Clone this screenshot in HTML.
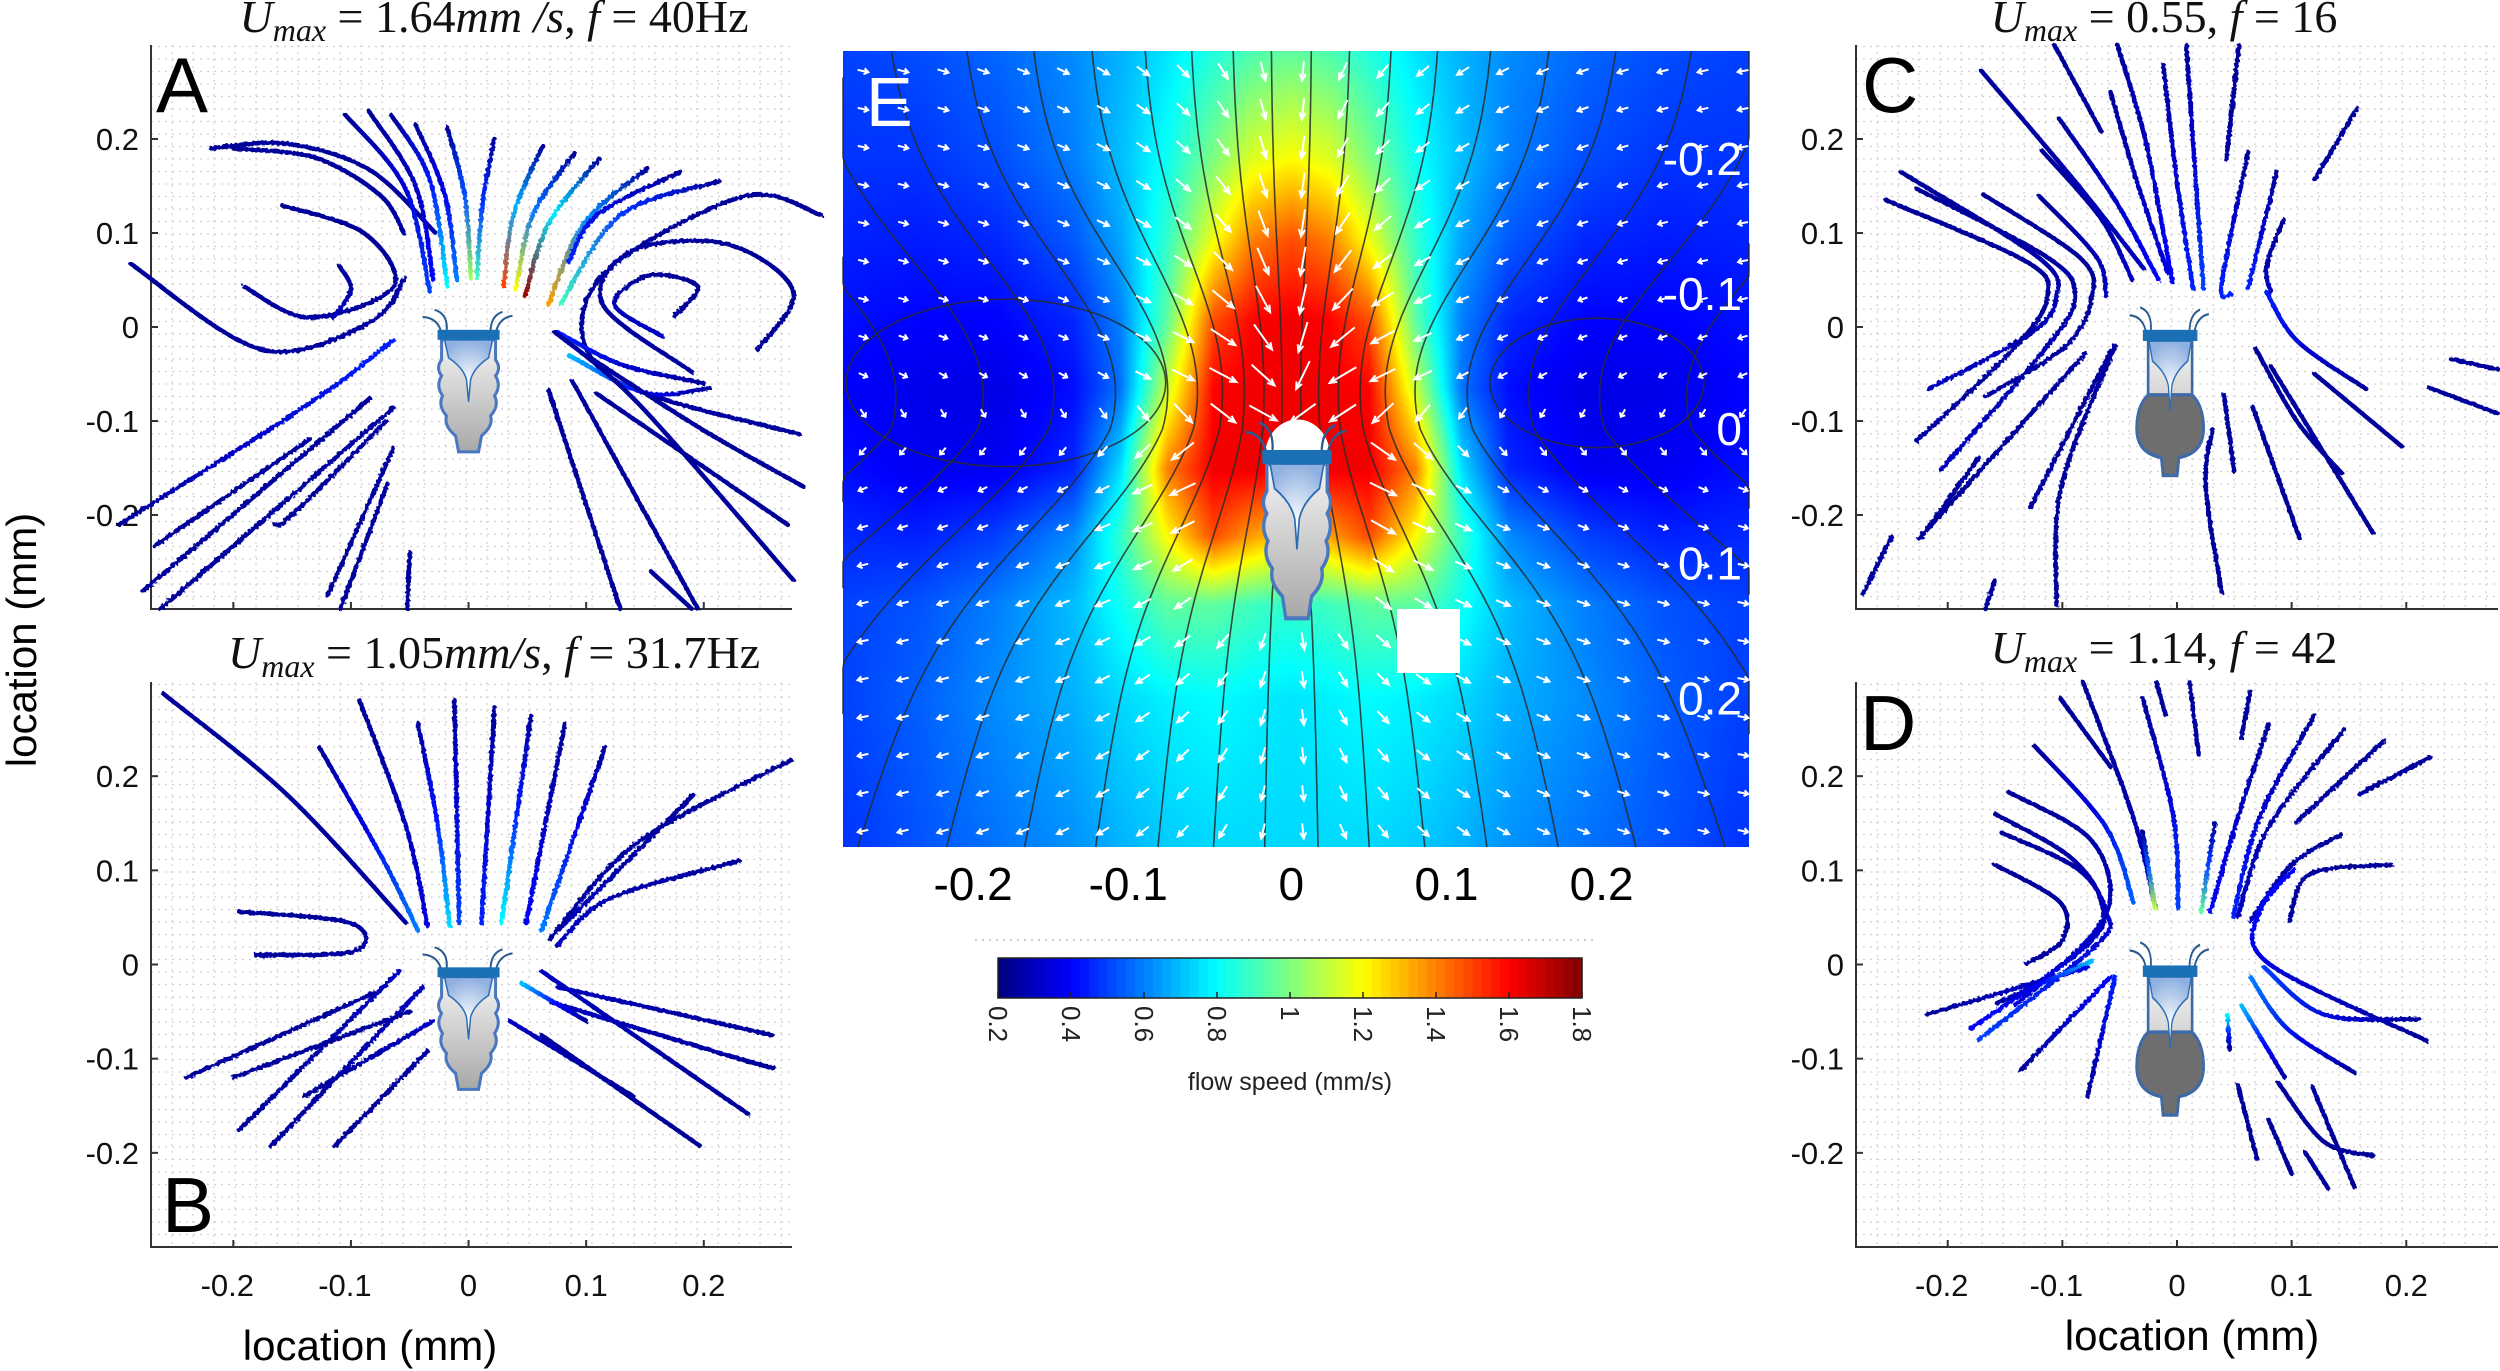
<!DOCTYPE html>
<html><head><meta charset="utf-8">
<style>
html,body{margin:0;padding:0;background:#fff;}
#wrap{position:relative;width:2500px;height:1371px;overflow:hidden;}
#heat{position:absolute;left:843px;top:51px;}
svg{position:absolute;left:0;top:0;}
text{font-family:"Liberation Sans",sans-serif;}
.ttl{font-family:"Liberation Serif",serif;font-size:46px;}
</style></head>
<body>
<div id="wrap">
<canvas id="heat" width="906" height="796"></canvas>
<svg id="s" width="2500" height="1371" xmlns="http://www.w3.org/2000/svg">
<defs id="defs">
<linearGradient id="gBody" x1="0" y1="0" x2="0" y2="1"><stop offset="0" stop-color="#f4f4f4"/><stop offset="1" stop-color="#a8a8a8"/></linearGradient>
<radialGradient id="gCup" cx="0.5" cy="0.7" r="0.7"><stop offset="0" stop-color="#ffffff"/><stop offset="1" stop-color="#8fb0e0"/></radialGradient>
<filter id="wig" x="-5%" y="-5%" width="110%" height="110%"><feTurbulence type="fractalNoise" baseFrequency="0.35" numOctaves="1" seed="3"/><feDisplacementMap in="SourceGraphic" scale="4"/></filter>
</defs>
<g id="layer"></g>
</svg>
</div>
<script>
// ---------- Panel E heatmap data (flow speed, mm/s) ----------
const heatX = [-0.29,-0.24,-0.19,-0.14,-0.11,-0.08,-0.05,-0.025,0,0.025,0.05,0.08,0.11,0.14,0.19,0.24,0.29];
const heatY = [-0.28,-0.2,-0.14,-0.08,-0.03,0.03,0.08,0.13,0.2,0.31];
const heatV = [
 [0.50,0.52,0.56,0.62,0.68,0.76,0.85,0.92,0.95,0.92,0.85,0.76,0.68,0.62,0.56,0.52,0.50],
 [0.48,0.48,0.52,0.60,0.70,0.82,1.00,1.15,1.20,1.15,1.00,0.82,0.70,0.60,0.52,0.48,0.48],
 [0.45,0.44,0.46,0.54,0.66,0.88,1.18,1.40,1.48,1.40,1.18,0.88,0.66,0.54,0.46,0.44,0.45],
 [0.42,0.40,0.40,0.46,0.60,0.95,1.48,1.60,1.62,1.60,1.48,0.95,0.60,0.46,0.40,0.40,0.42],
 [0.40,0.37,0.36,0.42,0.58,1.12,1.60,1.62,1.62,1.62,1.60,1.12,0.58,0.42,0.36,0.37,0.40],
 [0.42,0.38,0.38,0.46,0.75,1.40,1.62,1.62,1.62,1.62,1.62,1.40,0.75,0.46,0.38,0.38,0.42],
 [0.46,0.45,0.50,0.62,0.88,1.20,1.48,1.35,1.25,1.35,1.48,1.20,0.88,0.62,0.50,0.45,0.46],
 [0.50,0.53,0.60,0.70,0.82,0.95,0.95,0.90,0.88,0.90,0.95,0.95,0.82,0.70,0.60,0.53,0.50],
 [0.50,0.55,0.62,0.68,0.74,0.78,0.80,0.78,0.76,0.78,0.80,0.78,0.74,0.68,0.62,0.55,0.50],
 [0.48,0.53,0.58,0.63,0.68,0.72,0.74,0.74,0.74,0.74,0.74,0.72,0.68,0.63,0.58,0.53,0.48]
];
const cbTicks = [0.2,0.4,0.6,0.8,1,1.2,1.4,1.6,1.8];
const eXTicks = [-0.2,-0.1,0,0.1,0.2];
const eYTicks = [-0.2,-0.1,0,0.1,0.2];
const axTicks = [-0.2,-0.1,0,0.1,0.2];
const lobeCentersX = [-0.184,0.197];
const lobeCenterY = [-0.034,-0.034];
const lobeRx = [0.103,0.069];
const lobeRy = [0.062,0.048];
const streamSeeds = [0.012,0.035,0.06,0.088,0.12,0.155,0.195,0.24,0.29,0.35,0.42,0.5];

// ---------- Trajectory data (x mm, y mm; c = speed mm/s) ----------
const trajA = [
 {c:0.25,p:[[-0.219,0.19],[-0.155,0.195],[-0.084,0.167],[-0.028,0.1]]},
 {c:0.25,p:[[-0.2,0.19],[-0.13,0.18],[-0.075,0.14],[-0.055,0.1]]},
 {c:0.25,p:[[-0.287,0.067],[-0.176,-0.024],[-0.084,0.005],[-0.054,0.052]]},
 {c:0.25,p:[[-0.158,0.129],[-0.089,0.1],[-0.064,0.043],[-0.135,0.01],[-0.191,0.043]]},
 {c:0.3,p:[[-0.11,0.065],[-0.1,0.04],[-0.115,0.01]]},
 {c:0.5,p:[[-0.105,0.226],[-0.054,0.148],[-0.033,0.038]]},
 {c:0.4,p:[[-0.085,0.23],[-0.045,0.15],[-0.03,0.05]]},
 {c:0.8,p:[[-0.066,0.226],[-0.033,0.157],[-0.018,0.043]]},
 {c:0.6,p:[[-0.045,0.215],[-0.02,0.14],[-0.01,0.05]]},
 {c:1.05,p:[[-0.018,0.212],[-0.003,0.138],[0.002,0.052]]},
 {c:0.9,p:[[0.022,0.2],[0.012,0.133],[0.007,0.052]]},
 {c:1.5,p:[[0.063,0.193],[0.038,0.119],[0.03,0.043]]},
 {c:1.2,p:[[0.09,0.185],[0.055,0.12],[0.04,0.04]]},
 {c:1.75,p:[[0.111,0.179],[0.068,0.11],[0.048,0.033]]},
 {c:1.35,p:[[0.152,0.169],[0.098,0.11],[0.068,0.024]]},
 {c:0.9,p:[[0.213,0.155],[0.129,0.119],[0.078,0.024]]},
 {c:0.45,p:[[0.18,0.165],[0.11,0.12],[0.085,0.07]]},
 {c:0.25,p:[[0.3,0.119],[0.231,0.138],[0.109,0.048],[0.119,-0.052],[0.281,-0.114]]},
 {c:0.25,p:[[0.246,-0.024],[0.276,0.038],[0.22,0.088],[0.139,0.081],[0.114,0.024],[0.19,-0.048]]},
 {c:0.3,p:[[0.175,0.012],[0.195,0.043],[0.154,0.055],[0.124,0.024],[0.165,-0.01]]},
 {c:0.45,p:[[0.075,-0.005],[0.13,-0.04],[0.2,-0.06]]},
 {c:0.7,p:[[0.085,-0.03],[0.15,-0.07],[0.205,-0.065]]},
 {c:0.25,p:[[0.073,-0.005],[0.144,-0.081],[0.276,-0.269]]},
 {c:0.25,p:[[0.068,-0.067],[0.129,-0.3]]},
 {c:0.25,p:[[0.088,-0.057],[0.195,-0.3]]},
 {c:0.25,p:[[0.109,-0.071],[0.271,-0.21]]},
 {c:0.25,p:[[0.1,-0.03],[0.2,-0.11],[0.285,-0.17]]},
 {c:0.25,p:[[0.155,-0.26],[0.19,-0.3]]},
 {c:0.45,p:[[-0.064,-0.014],[-0.135,-0.081],[-0.297,-0.21]]},
 {c:0.25,p:[[-0.084,-0.076],[-0.277,-0.281]]},
 {c:0.25,p:[[-0.064,-0.086],[-0.262,-0.3]]},
 {c:0.25,p:[[-0.135,-0.119],[-0.267,-0.233]]},
 {c:0.25,p:[[-0.064,-0.129],[-0.12,-0.286]]},
 {c:0.25,p:[[-0.069,-0.167],[-0.109,-0.3]]},
 {c:0.25,p:[[-0.05,-0.24],[-0.052,-0.3]]},
 {c:0.25,p:[[-0.07,-0.1],[-0.15,-0.2],[-0.165,-0.21]]}
];
const trajB = [
 {c:0.25,p:[[-0.26,0.288],[-0.154,0.18],[-0.053,0.044]]},
 {c:0.25,p:[[-0.195,0.056],[-0.1,0.044],[-0.097,0.014],[-0.181,0.01]]},
 {c:0.6,p:[[-0.127,0.231],[-0.073,0.112],[-0.043,0.036]]},
 {c:0.35,p:[[-0.093,0.281],[-0.053,0.146],[-0.035,0.041]]},
 {c:0.75,p:[[-0.043,0.256],[-0.026,0.146],[-0.016,0.041]]},
 {c:0.5,p:[[-0.012,0.281],[-0.008,0.044]]},
 {c:0.45,p:[[0.022,0.273],[0.011,0.044]]},
 {c:0.8,p:[[0.053,0.264],[0.028,0.044]]},
 {c:0.4,p:[[0.082,0.256],[0.049,0.044]]},
 {c:0.6,p:[[0.116,0.231],[0.062,0.036]]},
 {c:0.3,p:[[0.191,0.18],[0.076,0.036]]},
 {c:0.25,p:[[0.274,0.217],[0.143,0.129],[0.069,0.027]]},
 {c:0.3,p:[[0.23,0.11],[0.12,0.07],[0.075,0.02]]},
 {c:0.3,p:[[-0.059,-0.007],[-0.195,-0.176]]},
 {c:0.3,p:[[-0.039,-0.024],[-0.168,-0.193]]},
 {c:0.25,p:[[-0.05,-0.05],[-0.2,-0.12]]},
 {c:0.25,p:[[-0.035,-0.092],[-0.114,-0.193]]},
 {c:0.3,p:[[-0.03,-0.06],[-0.14,-0.14]]},
 {c:0.25,p:[[-0.08,-0.03],[-0.24,-0.12]]},
 {c:0.3,p:[[0.062,-0.007],[0.238,-0.159]]},
 {c:0.3,p:[[0.07,-0.04],[0.23,-0.1],[0.26,-0.11]]},
 {c:0.25,p:[[0.062,-0.075],[0.197,-0.193]]},
 {c:0.3,p:[[0.035,-0.06],[0.14,-0.14]]},
 {c:0.3,p:[[0.076,-0.024],[0.258,-0.075]]},
 {c:0.7,p:[[0.045,-0.02],[0.1,-0.06]]}
];
const trajC = [
 {c:0.3,p:[[-0.241,0.165],[-0.121,0.074],[-0.105,0.033],[-0.128,-0.007],[-0.217,-0.066]]},
 {c:0.25,p:[[-0.254,0.135],[-0.132,0.07],[-0.113,0.033],[-0.14,-0.02],[-0.227,-0.121]]},
 {c:0.3,p:[[-0.227,0.147],[-0.113,0.074],[-0.089,0.033],[-0.113,-0.02],[-0.206,-0.152]]},
 {c:0.25,p:[[-0.169,0.141],[-0.085,0.074],[-0.074,0.033],[-0.097,-0.02],[-0.167,-0.074]]},
 {c:0.3,p:[[-0.12,0.139],[-0.07,0.074],[-0.062,0.033]]},
 {c:0.3,p:[[-0.118,0.188],[-0.066,0.115],[-0.039,0.05]]},
 {c:0.3,p:[[-0.171,0.273],[-0.089,0.155],[-0.029,0.062]]},
 {c:0.25,p:[[-0.107,0.3],[-0.066,0.208]]},
 {c:0.4,p:[[-0.103,0.222],[-0.054,0.135],[-0.016,0.05]]},
 {c:0.4,p:[[-0.052,0.3],[-0.027,0.196],[-0.004,0.048]]},
 {c:0.35,p:[[-0.058,0.25],[-0.035,0.155],[-0.008,0.058]]},
 {c:0.45,p:[[-0.012,0.279],[0,0.155],[0.014,0.041]]},
 {c:0.5,p:[[0.008,0.3],[0.023,0.041]]},
 {c:0.25,p:[[0.054,0.3],[0.043,0.178]]},
 {c:0.45,p:[[0.062,0.186],[0.039,0.046],[0.047,0.035]]},
 {c:0.45,p:[[0.087,0.165],[0.062,0.041]]},
 {c:0.3,p:[[0.093,0.114],[0.078,0.065],[0.082,0.037]]},
 {c:0.25,p:[[0.157,0.233],[0.12,0.157]]},
 {c:0.45,p:[[0.078,0.037],[0.105,-0.015],[0.165,-0.066]]},
 {c:0.25,p:[[0.12,-0.05],[0.196,-0.127]]},
 {c:0.25,p:[[0.068,-0.022],[0.105,-0.101],[0.144,-0.156]]},
 {c:0.25,p:[[0.082,-0.042],[0.171,-0.219]]},
 {c:0.25,p:[[0.066,-0.085],[0.107,-0.225]]},
 {c:0.25,p:[[0.041,-0.072],[0.05,-0.154]]},
 {c:0.25,p:[[0.031,-0.109],[0.025,-0.17],[0.039,-0.282]]},
 {c:0.25,p:[[0.239,-0.034],[0.28,-0.045]]},
 {c:0.25,p:[[0.219,-0.064],[0.28,-0.092]]},
 {c:0.25,p:[[-0.058,-0.026],[-0.128,-0.192]]},
 {c:0.25,p:[[-0.054,-0.02],[-0.101,-0.17],[-0.105,-0.296]]},
 {c:0.25,p:[[-0.08,-0.028],[-0.225,-0.225]]},
 {c:0.25,p:[[-0.173,-0.139],[-0.224,-0.225]]},
 {c:0.25,p:[[-0.249,-0.223],[-0.274,-0.284]]},
 {c:0.25,p:[[-0.159,-0.27],[-0.167,-0.3]]}
];
const trajD = [
 {c:0.4,p:[[-0.159,0.16],[-0.094,0.115],[-0.066,0.066],[-0.078,0.021],[-0.18,-0.068]]},
 {c:0.5,p:[[-0.153,0.14],[-0.086,0.101],[-0.062,0.056],[-0.07,0.021],[-0.173,-0.08]]},
 {c:0.35,p:[[-0.147,0.183],[-0.078,0.136],[-0.058,0.076],[-0.078,0.026],[-0.141,-0.043]]},
 {c:0.25,p:[[-0.159,0.106],[-0.102,0.066],[-0.1,0.026],[-0.131,0.001]]},
 {c:0.35,p:[[-0.218,-0.053],[-0.078,-0.003]]},
 {c:0.7,p:[[-0.157,-0.041],[-0.074,0.004]]},
 {c:0.4,p:[[-0.137,-0.113],[-0.07,-0.028],[-0.058,-0.013]]},
 {c:0.45,p:[[-0.078,-0.14],[-0.054,-0.013]]},
 {c:0.25,p:[[-0.102,0.283],[-0.058,0.21]]},
 {c:0.3,p:[[-0.082,0.3],[-0.038,0.156],[-0.019,0.061]]},
 {c:0.55,p:[[-0.125,0.233],[-0.062,0.146],[-0.038,0.066]]},
 {c:0.5,p:[[-0.03,0.283],[-0.003,0.156],[0.001,0.059]]},
 {c:0.25,p:[[-0.018,0.3],[-0.01,0.265]]},
 {c:0.25,p:[[0.011,0.3],[0.019,0.223]]},
 {c:1.1,p:[[-0.03,0.141],[-0.019,0.059]]},
 {c:0.95,p:[[0.033,0.15],[0.021,0.056]]},
 {c:0.25,p:[[0.064,0.29],[0.056,0.24]]},
 {c:0.4,p:[[0.08,0.255],[0.053,0.156],[0.029,0.056]]},
 {c:0.45,p:[[0.12,0.265],[0.072,0.156],[0.049,0.051]]},
 {c:0.3,p:[[0.146,0.25],[0.08,0.146],[0.053,0.051]]},
 {c:0.25,p:[[0.181,0.238],[0.104,0.151]]},
 {c:0.25,p:[[0.221,0.22],[0.159,0.181]]},
 {c:0.3,p:[[0.143,0.138],[0.1,0.106],[0.064,0.046]]},
 {c:0.25,p:[[0.187,0.106],[0.116,0.096],[0.098,0.046]]},
 {c:0.4,p:[[0.102,0.101],[0.072,0.056],[0.08,0.001],[0.218,-0.081]]},
 {c:0.5,p:[[0.076,-0.003],[0.128,-0.053],[0.211,-0.058]]},
 {c:0.6,p:[[0.064,-0.013],[0.096,-0.068],[0.155,-0.115]]},
 {c:0.7,p:[[0.056,-0.043],[0.094,-0.12]]},
 {c:0.8,p:[[0.044,-0.053],[0.046,-0.09]]},
 {c:0.25,p:[[0.053,-0.128],[0.07,-0.207]]},
 {c:0.25,p:[[0.088,-0.125],[0.128,-0.188],[0.171,-0.203]]},
 {c:0.25,p:[[0.08,-0.165],[0.1,-0.222]]},
 {c:0.25,p:[[0.112,-0.2],[0.132,-0.238]]},
 {c:0.25,p:[[0.118,-0.13],[0.155,-0.237]]}
];

const NS = "http://www.w3.org/2000/svg";
const layer = document.getElementById('layer');
const defs = document.getElementById('defs');
function el(tag, attrs, parent){
  const e = document.createElementNS(NS, tag);
  for (const k in attrs) e.setAttribute(k, attrs[k]);
  (parent||layer).appendChild(e);
  return e;
}
function clamp(v){return Math.max(0,Math.min(1,v));}
function jet(t){
  t = clamp(t);
  const r = clamp(1.5-Math.abs(4*t-3)), g = clamp(1.5-Math.abs(4*t-2)), b = clamp(1.5-Math.abs(4*t-1));
  return [Math.round(r*255),Math.round(g*255),Math.round(b*255)];
}
function jetCss(v){const c = jet((v-0.2)/1.6); return `rgb(${c[0]},${c[1]},${c[2]})`;}

const E = {x0:843,x1:1749,xmin:-0.289,xmax:0.295,y0:51,y1:847,ymin:-0.28,ymax:0.31};
function ex(x){return E.x0+(x-E.xmin)/(E.xmax-E.xmin)*(E.x1-E.x0);}
function ey(y){return E.y0+(y-E.ymin)/(E.ymax-E.ymin)*(E.y1-E.y0);}
function findIdx(arr,v){let i=0;while(i<arr.length-2 && v>arr[i+1]) i++;return i;}
function interp(x,y){
  const i=findIdx(heatX,x), j=findIdx(heatY,y);
  const tx=clamp((x-heatX[i])/(heatX[i+1]-heatX[i]));
  const ty=clamp((y-heatY[j])/(heatY[j+1]-heatY[j]));
  const a=heatV[j][i],b=heatV[j][i+1],c=heatV[j+1][i],d=heatV[j+1][i+1];
  return (a*(1-tx)+b*tx)*(1-ty)+(c*(1-tx)+d*tx)*ty;
}
(function(){
  const cv=document.getElementById('heat'), ctx=cv.getContext('2d');
  const W=cv.width,H=cv.height, img=ctx.createImageData(W,H);
  for(let py=0;py<H;py++){
    const y=E.ymin+(py+0.5)/H*(E.ymax-E.ymin);
    for(let px=0;px<W;px++){
      const x=E.xmin+(px+0.5)/W*(E.xmax-E.xmin);
      const c=jet((interp(x,y)-0.2)/1.6);
      const k=(py*W+px)*4;
      img.data[k]=c[0];img.data[k+1]=c[1];img.data[k+2]=c[2];img.data[k+3]=255;
    }
  }
  ctx.putImageData(img,0,0);
})();

function vel(x,y){
  const r=Math.sqrt(x*x+y*y)+1e-6;
  return [5*x*y/(r*r*r), 1/r + y*y/(r*r*r) - 2.5];
}
// hourglass streamline shape: pinch near organism, spread below
function pinch(y,s){
  const g=Math.exp(-Math.pow((y+0.03)/0.13,2));
  const spread = y>0 ? 1+1.4*y : 1+0.3*(-y);
  return (1-0.5*g*Math.min(1,0.25/(s+0.1)))*spread;
}
const gStream = el('g',{});


streamSeeds.forEach(s=>{[-1,1].forEach(sg=>{
  const pts=[];
  for(let k=0;k<=120;k++){
    const y=E.ymin+k/120*(E.ymax-E.ymin);
    const x=sg*s*pinch(y,s);
    if(x<E.xmin-0.02||x>E.xmax+0.02) continue;
    pts.push([Math.max(E.xmin,Math.min(E.xmax,x)),y]);
  }
  if(pts.length<3) return;
  const d=pts.map((p,i)=>(i?'L':'M')+ex(p[0]).toFixed(1)+','+ey(p[1]).toFixed(1)).join('');
  const p=el('path',{d:d,fill:'none',stroke:'#2a2a2a','stroke-width':1.6,opacity:0.85},gStream);
  
  
});});
lobeCentersX.forEach((cx,i)=>{
  const e=el('ellipse',{cx:ex(cx),cy:ey(lobeCenterY[i]),rx:lobeRx[i]*1551,ry:lobeRy[i]*1349,fill:'none',stroke:'#2a2a2a','stroke-width':1.6,opacity:0.85},gStream);
  
  
});
const gArr = el('g',{});


for(let py=E.y0+20;py<E.y1;py+=38){
  for(let px=E.x0+20;px<E.x1;px+=40){
    const x=E.xmin+(px-E.x0)/(E.x1-E.x0)*(E.xmax-E.xmin);
    const y=E.ymin+(py-E.y0)/(E.y1-E.y0)*(E.ymax-E.ymin);
    if(Math.abs(x)<0.045 && y>-0.01 && y<0.14) continue;
    const v=vel(x,y); const m=Math.hypot(v[0],v[1]);
    const sp=interp(x,y); const L=2+sp*18;
    const ux=v[0]/m, uy=v[1]/m;
    const x1=px-ux*L/2,y1=py-uy*L/2,x2=px+ux*L/2,y2=py+uy*L/2;
    const h=Math.min(7,L*0.4);
    const a=el('path',{d:`M${x1.toFixed(1)},${y1.toFixed(1)}L${x2.toFixed(1)},${y2.toFixed(1)}M${(x2-ux*h-uy*3).toFixed(1)},${(y2-uy*h+ux*3).toFixed(1)}L${x2.toFixed(1)},${y2.toFixed(1)}L${(x2-ux*h+uy*3).toFixed(1)},${(y2-uy*h-ux*3).toFixed(1)}`,stroke:'#fff','stroke-width':2,fill:'none'},gArr);
    
    
  }
}
const sq=el('rect',{x:1397,y:609,width:63,height:64,fill:'#fff'});



const eL=el('text',{x:866,y:126,'font-size':70,fill:'#fff'}); eL.textContent='E';
 
eXTicks.forEach(t=>{
  const tx=el('text',{x:ex(t)-(t<0?8:0),y:900,'font-size':46,'text-anchor':'middle',fill:'#000'}); tx.textContent=String(t);
   
});
eYTicks.forEach(t=>{
  const tx=el('text',{x:1742,y:ey(t)+16,'font-size':46,'text-anchor':'end',fill:'#fff'}); tx.textContent=String(t);
   
});

const CB={x0:998,x1:1582,y0:958,y1:998,vmin:0.2,vmax:1.8};
function cbx(v){return CB.x0+(v-CB.vmin)/(CB.vmax-CB.vmin)*(CB.x1-CB.x0);}
el('line',{x1:975,y1:940,x2:1595,y2:940,stroke:'#ccc','stroke-width':2,'stroke-dasharray':'2,5'});
const gCb=el('g',{});  
for(let i=0;i<64;i++){
  const v=CB.vmin+(i+0.5)/64*(CB.vmax-CB.vmin);
  el('rect',{x:cbx(CB.vmin+i/64*1.6),y:CB.y0,width:(CB.x1-CB.x0)/64+0.6,height:CB.y1-CB.y0,fill:jetCss(v)},gCb);
}
el('rect',{x:CB.x0,y:CB.y0,width:CB.x1-CB.x0,height:CB.y1-CB.y0,fill:'none',stroke:'#222','stroke-width':1.5},gCb);
cbTicks.forEach(t=>{
  const X=cbx(t);
  el('line',{x1:X,y1:CB.y1,x2:X,y2:CB.y1-6,stroke:'#222','stroke-width':1.5},gCb);
  const tx=el('text',{x:0,y:0,'font-size':26,transform:`translate(${X-9},${CB.y1+8}) rotate(90)`,fill:'#222'},gCb);
  tx.textContent=String(t);
   
});
const cbl=el('text',{x:1290,y:1090,'font-size':25,'text-anchor':'middle',fill:'#222'}); cbl.textContent='flow speed (mm/s)';
 

function organism(cx,top,sx,sy,type,name){
  const g=el('g',{transform:`translate(${cx},${top}) scale(${sx},${sy})`});
   
  el('path',{d:'M-27,4 Q-30,-12 -46,-13 M-22,2 Q-20,-16 -34,-20 M27,4 Q30,-12 44,-14 M22,2 Q22,-14 34,-18',stroke:'#2a5a90','stroke-width':2,fill:'none'},g);
  if(type==='a'){
    el('path',{d:'M-27,10 L-27,30 Q-33,38 -27,46 Q-33,56 -26,66 Q-31,76 -22,86 Q-25,96 -13,106 L-10,122 L10,122 L13,106 Q25,96 22,86 Q31,76 26,66 Q33,56 27,46 Q33,38 27,30 L27,10 Z',fill:'url(#gBody)',stroke:'#4a78c0','stroke-width':3},g);
  } else {
    el('path',{d:'M-25,10 L-25,58 Q-38,68 -38,88 Q-38,110 -10,114 L-8,130 L8,130 L10,114 Q38,110 38,88 Q38,68 25,58 L25,10 Z',fill:'url(#gBody)',stroke:'#3f6aa8','stroke-width':3},g);
    el('path',{d:'M-25,58 Q-38,68 -38,88 Q-38,110 -10,114 L-8,130 L8,130 L10,114 Q38,110 38,88 Q38,68 25,58 Z',fill:'#6e6e6e',stroke:'#3f6aa8','stroke-width':3},g);
  }
  el('path',{d:'M-24,10 L24,10 L20,28 Q5,38 2,50 L0,72 L-2,50 Q-5,38 -20,28 Z',fill:'url(#gCup)',stroke:'#2a6db5','stroke-width':1.5},g);
  el('rect',{x:-31,y:0,width:62,height:10,fill:'#1a6fb5'},g);
  return g;
}
const dome=el('path',{d:`M1265,456 A32,36 0 0 1 1330,456 Z`,fill:'#fff'});
 
organism(1297,450,1.12,1.38,'a','organism-e');

let gid=0;
function panel(cfg){
  const g=el('g',{});  
  const px=x=>cfg.x0+(x-cfg.xmin)/(cfg.xmax-cfg.xmin)*(cfg.x1-cfg.x0);
  const py=y=>cfg.y1-(y-cfg.ymin)/(cfg.ymax-cfg.ymin)*(cfg.y1-cfg.y0);
  for(let v=cfg.x0+21; v<cfg.x1; v+=21)
    el('line',{x1:v,y1:cfg.y0,x2:v,y2:cfg.y1,stroke:'#d0d0d0','stroke-width':1.2,'stroke-dasharray':'2,5'},g);
  for(let v=cfg.y1-12.5; v>cfg.y0; v-=12.5)
    el('line',{x1:cfg.x0,y1:v,x2:cfg.x1,y2:v,stroke:'#d0d0d0','stroke-width':1.2,'stroke-dasharray':'2,5'},g);
  el('path',{d:`M${cfg.x0},${cfg.y0}L${cfg.x0},${cfg.y1}L${cfg.x1},${cfg.y1}`,fill:'none',stroke:'#333','stroke-width':2},g);
  axTicks.forEach(t=>{
    el('line',{x1:px(t),y1:cfg.y1,x2:px(t),y2:cfg.y1-7,stroke:'#333','stroke-width':2},g);
    el('line',{x1:cfg.x0,y1:py(t),x2:cfg.x0+7,y2:py(t),stroke:'#333','stroke-width':2},g);
    const ty=el('text',{x:cfg.x0-12,y:py(t)+11,'font-size':31,'text-anchor':'end',fill:'#111'},g);
    ty.textContent=String(t);
     
    if(cfg.xlabels){
      const tx=el('text',{x:px(t)-(t<0?6:0),y:cfg.y1+49,'font-size':31,'text-anchor':'middle',fill:'#111'},g);
      tx.textContent=String(t);
       
    }
  });
  const gt=el('g',{filter:'url(#wig)'},g);
   
  cfg.traj.forEach(tr=>{
    const P=tr.p.map(q=>[px(q[0]),py(q[1])]);
    let d='M'+P[0][0].toFixed(1)+','+P[0][1].toFixed(1);
    for(let i=0;i<P.length-1;i++){
      const p0=P[Math.max(0,i-1)],p1=P[i],p2=P[i+1],p3=P[Math.min(P.length-1,i+2)];
      const c1=[p1[0]+(p2[0]-p0[0])/6,p1[1]+(p2[1]-p0[1])/6];
      const c2=[p2[0]-(p3[0]-p1[0])/6,p2[1]-(p3[1]-p1[1])/6];
      d+=`C${c1[0].toFixed(1)},${c1[1].toFixed(1)} ${c2[0].toFixed(1)},${c2[1].toFixed(1)} ${p2[0].toFixed(1)},${p2[1].toFixed(1)}`;
    }
    const first=tr.p[0], last=tr.p[tr.p.length-1];
    const nearEnd = Math.hypot(last[0],last[1]) < Math.hypot(first[0],first[1]);
    const A=nearEnd?P[0]:P[P.length-1], B=nearEnd?P[P.length-1]:P[0];
    const c=Math.min(tr.c,1.8), base=0.24;
    const id='tg'+(gid++);
    const lg=el('linearGradient',{id:id,gradientUnits:'userSpaceOnUse',x1:A[0],y1:A[1],x2:B[0]+0.01,y2:B[1]+0.01},defs);
    el('stop',{offset:0,'stop-color':jetCss(base)},lg);
    el('stop',{offset:0.45,'stop-color':jetCss(base+(c-base)*0.35)},lg);
    el('stop',{offset:1,'stop-color':jetCss(c)},lg);
    const pth=el('path',{d:d,fill:'none',stroke:`url(#${id})`,'stroke-width':4.5,'stroke-linecap':'round'},gt);
    
    
  });
  const lb=el('text',{x:cfg.lx,y:cfg.ly,'font-size':78,fill:'#000'},g); lb.textContent=cfg.label;
   
  const t=el('text',{x:cfg.tx,y:cfg.ty,'text-anchor':'middle',class:'ttl',fill:'#111'},g);
   
  t.innerHTML=cfg.title;
  organism(px(cfg.ox),py(cfg.oy),cfg.osx,cfg.osy,cfg.otype,'organism-'+cfg.label.toLowerCase());
}
panel({name:'panel-a',label:'A',lx:156,ly:112,x0:151,x1:792,xmin:-0.27,xmax:0.275,y0:45,y1:609,ymin:-0.3,ymax:0.3,traj:trajA,xlabels:false,
  tx:494,ty:32,title:'<tspan font-style="italic">U</tspan><tspan font-style="italic" font-size="32" dy="9">max</tspan><tspan dy="-9"> = 1.64</tspan><tspan font-style="italic">mm /s</tspan>,  <tspan font-style="italic">f</tspan> = 40Hz',
  ox:0,oy:-0.003,osx:1,osy:1,otype:'a'});
panel({name:'panel-b',label:'B',lx:162,ly:1232,x0:151,x1:792,xmin:-0.27,xmax:0.275,y0:682,y1:1247,ymin:-0.3,ymax:0.3,traj:trajB,xlabels:true,
  tx:494,ty:668,title:'<tspan font-style="italic">U</tspan><tspan font-style="italic" font-size="32" dy="9">max</tspan><tspan dy="-9"> = 1.05</tspan><tspan font-style="italic">mm/s</tspan>,  <tspan font-style="italic">f</tspan> = 31.7Hz',
  ox:0,oy:-0.003,osx:1,osy:1,otype:'a'});
panel({name:'panel-c',label:'C',lx:1862,ly:112,x0:1856,x1:2498,xmin:-0.28,xmax:0.28,y0:45,y1:609,ymin:-0.3,ymax:0.3,traj:trajC,xlabels:false,
  tx:2164,ty:32,title:'<tspan font-style="italic">U</tspan><tspan font-style="italic" font-size="32" dy="9">max</tspan><tspan dy="-9"> = 0.55,  </tspan><tspan font-style="italic">f</tspan> = 16',
  ox:-0.006,oy:-0.003,osx:0.88,osy:1.12,otype:'c'});
panel({name:'panel-d',label:'D',lx:1860,ly:750,x0:1856,x1:2498,xmin:-0.28,xmax:0.28,y0:682,y1:1247,ymin:-0.3,ymax:0.3,traj:trajD,xlabels:true,
  tx:2164,ty:663,title:'<tspan font-style="italic">U</tspan><tspan font-style="italic" font-size="32" dy="9">max</tspan><tspan dy="-9"> = 1.14,  </tspan><tspan font-style="italic">f</tspan> = 42',
  ox:-0.006,oy:-0.001,osx:0.88,osy:1.15,otype:'c'});

const yl=el('text',{x:0,y:0,'font-size':42,'text-anchor':'middle',fill:'#000',transform:'translate(36,640) rotate(-90)'}); yl.textContent='location (mm)';
 
const xl1=el('text',{x:370,y:1360,'font-size':42,'text-anchor':'middle',fill:'#000'}); xl1.textContent='location (mm)';
 
const xl2=el('text',{x:2192,y:1350,'font-size':42,'text-anchor':'middle',fill:'#000'}); xl2.textContent='location (mm)';
 
</script>
</body></html>
